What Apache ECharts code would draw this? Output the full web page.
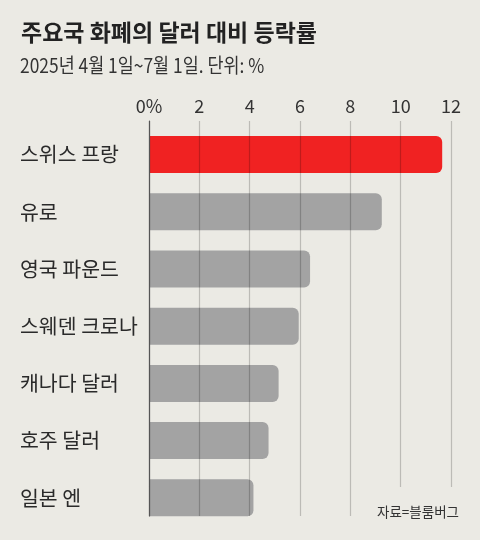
<!DOCTYPE html>
<html>
<head>
<meta charset="utf-8">
<script src="https://cdn.jsdelivr.net/npm/echarts@6/dist/echarts.min.js"></script>
<style>
html,body{margin:0;padding:0;background:#ebeae4;}
#chart{width:480px;height:540px;}
</style>
</head>
<body>
<div id="chart"></div>
<script>
const categories = ['스위스 프랑', '유로', '영국 파운드', '스웨덴 크로나', '캐나다 달러', '호주 달러', '일본 엔'];
const values = [11.65, 9.25, 6.4, 5.95, 5.15, 4.75, 4.15];
const highlight = [true, false, false, false, false, false, false];
const xTicks = [0, 2, 4, 6, 8, 10, 12];
const titleText = '주요국 화폐의 달러 대비 등락률';
const subtitleText = '2025년 4월 1일~7월 1일. 단위: %';
const sourceText = '자료=블룸버그';

const FONT = '"Noto Sans CJK KR", "Noto Sans", sans-serif';
const NARROW = '"Liberation Sans Narrow", "Noto Sans CJK KR", sans-serif';
const GRID_COLOR = 'rgba(0,0,0,0.2)';
const AXIS_COLOR = '#555';

const chart = echarts.init(document.getElementById('chart'), null, {renderer: 'canvas'});

const option = {
  backgroundColor: '#ebeae4',
  animation: false,
  title: [
    {text: titleText, left: 16, top: 16,
     textStyle: {fontFamily: FONT, fontSize: 23, fontWeight: 'bold', color: '#222'}},
    {text: sourceText, right: 16, top: 500,
     textStyle: {fontFamily: FONT, fontSize: 13.5, fontWeight: 'normal', color: '#333'}}
  ],
  graphic: [
    {type: 'text', x: 20, y: 55, scaleX: 0.87, scaleY: 1,
     style: {text: subtitleText, font: '20px ' + FONT, fill: '#333', verticalAlign: 'top', align: 'left'}}
  ],
  grid: [
    {left: 149, width: 302, top: 126, height: 400.4, containLabel: false},
    {left: 149, width: 302, top: 121, height: 366, containLabel: false},
    {left: 149, width: 201.33, top: 487, height: 29, containLabel: false}
  ],
  xAxis: [
    {gridIndex: 0, type: 'value', min: 0, max: 12, interval: 2, show: false},
    {gridIndex: 1, type: 'value', min: 0, max: 12, interval: 2, position: 'top', z: 10,
     axisLine: {show: false}, axisTick: {show: false},
     axisLabel: {show: true, margin: 6, fontFamily: NARROW, fontSize: 18, color: '#333',
       formatter: v => v === 0 ? '0%' : String(v)},
     splitLine: {show: true, lineStyle: {color: GRID_COLOR, width: 1.2}}},
    {gridIndex: 2, type: 'value', min: 0, max: 8, interval: 2, z: 10,
     axisLine: {show: false}, axisTick: {show: false}, axisLabel: {show: false},
     splitLine: {show: true, lineStyle: {color: GRID_COLOR, width: 1.2}}}
  ],
  yAxis: [
    {gridIndex: 0, type: 'category', data: categories, inverse: true,
     axisLine: {show: false}, axisTick: {show: false}, splitLine: {show: false},
     axisLabel: {show: true, align: 'left', margin: 129, fontFamily: FONT, fontSize: 20.5, color: '#2a2a2a'}},
    {gridIndex: 1, type: 'value', z: 11, min: 0, max: 1,
     axisLine: {show: true, lineStyle: {color: AXIS_COLOR, width: 1.2}},
     axisTick: {show: false}, axisLabel: {show: false}, splitLine: {show: false}},
    {gridIndex: 2, type: 'value', z: 11, min: 0, max: 1,
     axisLine: {show: true, lineStyle: {color: AXIS_COLOR, width: 1.2}},
     axisTick: {show: false}, axisLabel: {show: false}, splitLine: {show: false}}
  ],
  series: [
    {type: 'bar', xAxisIndex: 0, yAxisIndex: 0, barWidth: 37, z: 2,
     data: values.map((v, i) => ({
       value: v,
       itemStyle: {color: highlight[i] ? '#f02222' : '#a3a3a3', borderRadius: [0, 6, 6, 0]}
     }))}
  ]
};
chart.setOption(option);
</script>
</body>
</html>
